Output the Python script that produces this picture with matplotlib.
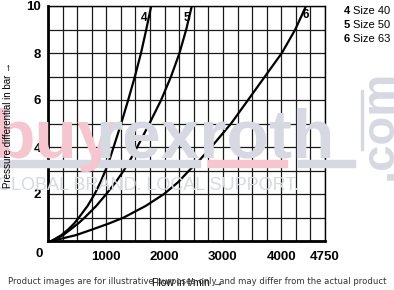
import numpy as np
import matplotlib
matplotlib.use("Agg")
import matplotlib.pyplot as plt

# pressure differential curves (bar vs flow in l/min)
bar_pts = [0, 0.25, 0.5, 0.75, 1, 1.5, 2, 2.5, 3, 3.5, 4, 5, 6, 7, 8, 9, 10]
flow_4 = [60, 230, 350, 450, 530, 680, 800, 900, 985, 1060, 1125, 1255, 1375, 1490, 1595, 1685, 1770]
flow_5 = [60, 260, 390, 520, 630, 830, 1000, 1160, 1300, 1420, 1530, 1740, 1940, 2110, 2255, 2370, 2466]
flow_6 = [60, 480, 770, 1050, 1300, 1680, 1990, 2230, 2420, 2620, 2800, 3140, 3430, 3720, 4010, 4240, 4425]

curve_names = ["4", "5", "6"]
label_flow = [1640, 2380, 4420]
label_bar = [9.5, 9.5, 9.6]
legend_sizes = ["Size 40", "Size 50", "Size 63"]

x_ticks = [1000, 2000, 3000, 4000, 4750]
y_ticks = [2, 4, 6, 8, 10]

W, H = 394, 290
fig = plt.figure(figsize=(W / 100, H / 100), dpi=100)

# watermark behind the chart
pink = "#f6c6d0"
grey = "#d6d9e1"
fig.text(-8 / W, 1 - 158 / H, "buy", fontsize=50, fontweight="bold",
         color=pink, family="Liberation Sans", zorder=0)
fig.text(95 / W, 1 - 158 / H, "rexroth", fontsize=50, fontweight="bold",
         color=grey, family="Liberation Sans", zorder=0)
fig.text(380 / W, 1 - 125 / H, ".com", fontsize=34, fontweight="bold",
         color=grey, family="Liberation Sans", rotation=90,
         ha="center", va="center", zorder=0)
for x0, x1, c in [(0, 200, grey), (208, 287, pink), (298, 355, grey)]:
    fig.patches.append(plt.Rectangle((x0 / W, 1 - 167 / H), (x1 - x0) / W, 7 / H,
                                     transform=fig.transFigure, color=c, zorder=0))
fig.patches.append(plt.Rectangle((361 / W, 1 - 150 / H), 1.5 / W, 60 / H,
                                 transform=fig.transFigure, color=grey, zorder=0))
fig.text(-3 / W, 1 - 185 / H, "GLOBAL BRAND. LOCAL SUPPORT.", fontsize=13,
         color=grey, family="Liberation Sans", va="center", zorder=0)

ax = fig.add_axes([48 / W, 49 / H, 277 / W, 235 / H])
ax.patch.set_alpha(0)

for flows in [flow_4, flow_5, flow_6]:
    ax.plot(flows, bar_pts, color="black", lw=1.6, zorder=3)

ax.set_xlim(0, 4750)
ax.set_ylim(0, 10)
ax.set_xticks(x_ticks)
ax.set_xticks(np.arange(0, 4751, 250), minor=True)
ax.set_yticks(y_ticks)
ax.set_yticks(np.arange(0, 11, 1), minor=True)
ax.grid(True, which="both", color="#1a1a1a", lw=0.9)
ax.tick_params(which="both", length=0)
ax.tick_params(axis="x", pad=7)
ax.tick_params(axis="y", pad=5)
for lab in ax.get_xticklabels() + ax.get_yticklabels():
    lab.set_family("Liberation Sans")
    lab.set_fontweight("bold")
    lab.set_fontsize(9.5)
for side in ["left", "bottom"]:
    ax.spines[side].set_linewidth(2.0)
for side in ["top", "right"]:
    ax.spines[side].set_linewidth(1.0)

ax.text(-9 / 277, -13 / 235, "0", transform=ax.transAxes, fontsize=9.5,
        fontweight="bold", family="Liberation Sans", ha="center", va="center")

# curve labels
for name, lx, ly in zip(curve_names, label_flow, label_bar):
    ax.text(lx, ly, name, ha="center", va="center", fontsize=8.5,
            fontweight="bold", family="Liberation Sans", zorder=4)

# legend at right
for i, (name, size) in enumerate(zip(curve_names, legend_sizes)):
    y = 1 - (11 + 14 * i) / H
    fig.text(344 / W, y, name, fontsize=8, fontweight="bold",
             family="Liberation Sans", va="center")
    fig.text(353 / W, y, size, fontsize=8,
             family=["Liberation Sans Narrow", "Liberation Sans"], va="center")

fig.text(8 / W, 1 - 125 / H, "Pressure differential in bar \u2192", rotation=90,
         fontsize=7, family="Liberation Sans", ha="center", va="center")
fig.text(188 / W, 1 - 283 / H, "Flow in l/min \u2192", fontsize=7.5,
         family="Liberation Sans", ha="center", va="center")
fig.text(197 / W, 1 - 281 / H,
         "Product images are for illustrative purposes only and may differ from the actual product",
         fontsize=6.1, color="#333333", family="DejaVu Sans", ha="center", va="center")

fig.savefig("out.png", dpi=100)
